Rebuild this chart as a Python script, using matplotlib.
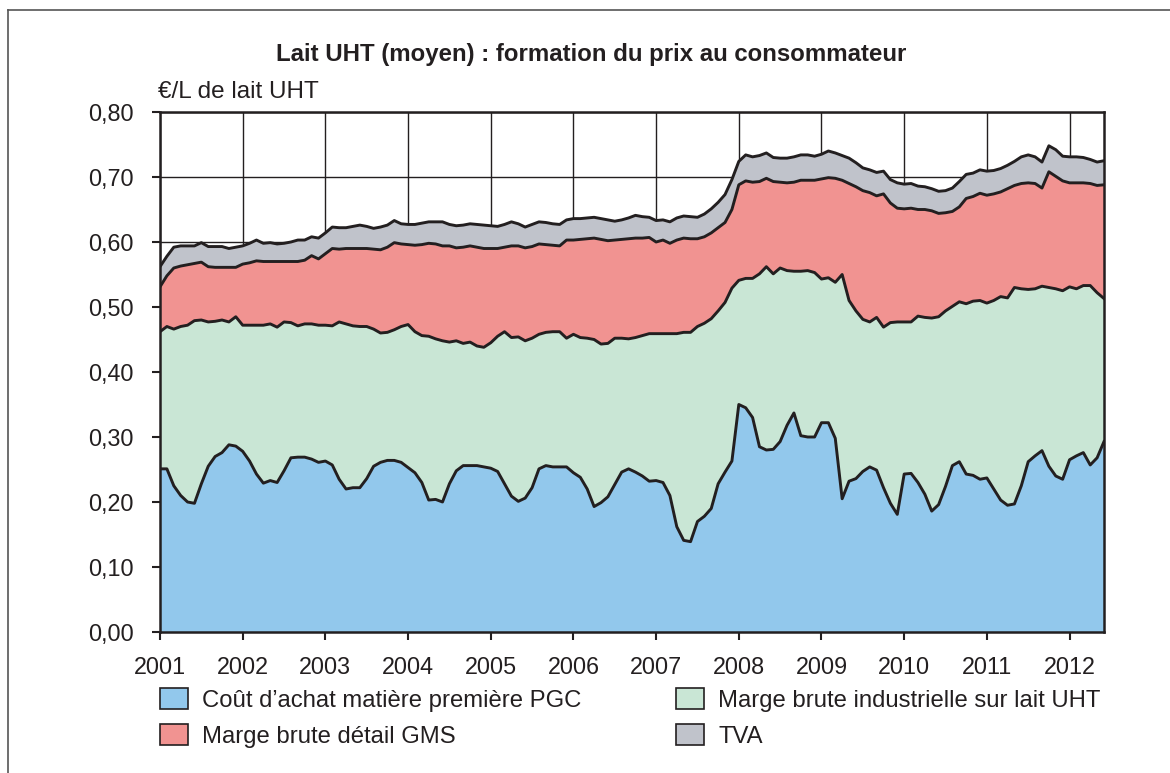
import numpy as np
import matplotlib
matplotlib.use("Agg")
import matplotlib.pyplot as plt
from matplotlib.patches import Patch
from matplotlib.lines import Line2D
from matplotlib.ticker import FuncFormatter

plt.rcParams['font.family'] = ['Liberation Sans', 'DejaVu Sans']

# --- Données mensuelles, janv. 2001 -> juin 2012 (niveaux cumulés, €/L) ---
# coût d'achat matière première
prix_mp = [
    0.251, 0.251, 0.225, 0.210, 0.200, 0.198, 0.228, 0.255, 0.270, 0.276, 0.288, 0.286,
    0.278, 0.263, 0.243, 0.229, 0.233, 0.230, 0.248, 0.268, 0.269, 0.269, 0.266, 0.261,
    0.263, 0.257, 0.235, 0.220, 0.222, 0.222, 0.236, 0.255, 0.261, 0.264, 0.264, 0.261,
    0.253, 0.245, 0.230, 0.203, 0.204, 0.200, 0.228, 0.248, 0.256, 0.256, 0.256, 0.254,
    0.252, 0.247, 0.228, 0.209, 0.201, 0.206, 0.222, 0.251, 0.256, 0.254, 0.254, 0.254,
    0.245, 0.238, 0.220, 0.193, 0.199, 0.208, 0.227, 0.246, 0.251, 0.246, 0.240, 0.232,
    0.233, 0.230, 0.210, 0.162, 0.141, 0.139, 0.170, 0.178, 0.190, 0.228, 0.246, 0.263,
    0.350, 0.345, 0.330, 0.285, 0.280, 0.281, 0.293, 0.318, 0.337, 0.302, 0.300, 0.300,
    0.322, 0.322, 0.298, 0.205, 0.232, 0.236, 0.247, 0.254, 0.249, 0.222, 0.198, 0.181,
    0.243, 0.244, 0.230, 0.212, 0.186, 0.196, 0.224, 0.256, 0.262, 0.243, 0.241, 0.235,
    0.237, 0.220, 0.203, 0.195, 0.197, 0.225, 0.262, 0.271, 0.279, 0.255, 0.240, 0.235,
    0.265, 0.271, 0.276, 0.257, 0.268, 0.293,
]
# + marge industrielle (prix sortie usine)
prix_usine = [
    0.462, 0.470, 0.466, 0.470, 0.472, 0.479, 0.480, 0.477, 0.478, 0.480, 0.477, 0.485,
    0.472, 0.472, 0.472, 0.472, 0.474, 0.469, 0.477, 0.476, 0.471, 0.474, 0.474, 0.472,
    0.472, 0.471, 0.477, 0.474, 0.471, 0.470, 0.470, 0.466, 0.460, 0.461, 0.465, 0.470,
    0.473, 0.462, 0.456, 0.455, 0.451, 0.448, 0.446, 0.448, 0.444, 0.446, 0.440, 0.438,
    0.445, 0.455, 0.462, 0.453, 0.454, 0.448, 0.452, 0.458, 0.461, 0.462, 0.462, 0.452,
    0.458, 0.453, 0.452, 0.450, 0.443, 0.444, 0.452, 0.452, 0.451, 0.453, 0.456, 0.459,
    0.459, 0.459, 0.459, 0.459, 0.461, 0.461, 0.470, 0.475, 0.482, 0.494, 0.507, 0.529,
    0.541, 0.544, 0.544, 0.551, 0.562, 0.551, 0.560, 0.556, 0.555, 0.555, 0.556, 0.553,
    0.543, 0.545, 0.538, 0.550, 0.510, 0.494, 0.481, 0.477, 0.484, 0.469, 0.476, 0.477,
    0.477, 0.477, 0.486, 0.484, 0.483, 0.485, 0.494, 0.501, 0.508, 0.505, 0.509, 0.510,
    0.506, 0.510, 0.516, 0.514, 0.530, 0.528, 0.527, 0.528, 0.532, 0.530, 0.528, 0.525,
    0.531, 0.528, 0.533, 0.533, 0.522, 0.513,
]
# + marge détail GMS (prix HT)
prix_ht = [
    0.531, 0.548, 0.560, 0.563, 0.565, 0.567, 0.569, 0.562, 0.561, 0.561, 0.561, 0.561,
    0.566, 0.568, 0.571, 0.570, 0.570, 0.570, 0.570, 0.570, 0.570, 0.572, 0.579, 0.574,
    0.582, 0.590, 0.589, 0.590, 0.590, 0.590, 0.590, 0.589, 0.588, 0.592, 0.599, 0.597,
    0.596, 0.595, 0.596, 0.598, 0.597, 0.594, 0.594, 0.591, 0.592, 0.594, 0.592, 0.590,
    0.590, 0.590, 0.592, 0.594, 0.594, 0.591, 0.593, 0.597, 0.596, 0.595, 0.594, 0.603,
    0.603, 0.604, 0.605, 0.606, 0.604, 0.602, 0.603, 0.604, 0.605, 0.606, 0.606, 0.607,
    0.600, 0.603, 0.598, 0.603, 0.606, 0.605, 0.605, 0.608, 0.614, 0.622, 0.630, 0.650,
    0.688, 0.694, 0.692, 0.693, 0.698, 0.693, 0.692, 0.691, 0.692, 0.695, 0.695, 0.695,
    0.697, 0.699, 0.698, 0.695, 0.690, 0.685, 0.679, 0.676, 0.671, 0.674, 0.660, 0.652,
    0.651, 0.652, 0.650, 0.650, 0.648, 0.644, 0.645, 0.647, 0.654, 0.667, 0.670, 0.675,
    0.672, 0.674, 0.677, 0.682, 0.687, 0.690, 0.691, 0.690, 0.683, 0.708, 0.701, 0.694,
    0.691, 0.691, 0.691, 0.690, 0.687, 0.688,
]
# + TVA (prix consommateur TTC)
prix_ttc = [
    0.562, 0.578, 0.592, 0.594, 0.594, 0.594, 0.599, 0.593, 0.593, 0.593, 0.590, 0.592,
    0.594, 0.598, 0.603, 0.598, 0.599, 0.597, 0.598, 0.600, 0.603, 0.603, 0.608, 0.606,
    0.614, 0.623, 0.622, 0.622, 0.624, 0.626, 0.624, 0.621, 0.623, 0.626, 0.633, 0.628,
    0.627, 0.627, 0.629, 0.631, 0.631, 0.631, 0.627, 0.625, 0.626, 0.628, 0.627, 0.626,
    0.625, 0.624, 0.627, 0.631, 0.628, 0.623, 0.627, 0.631, 0.630, 0.628, 0.627, 0.634,
    0.636, 0.636, 0.637, 0.638, 0.636, 0.634, 0.632, 0.634, 0.637, 0.641, 0.639, 0.638,
    0.633, 0.634, 0.631, 0.637, 0.640, 0.639, 0.638, 0.643, 0.651, 0.661, 0.673, 0.696,
    0.724, 0.734, 0.731, 0.733, 0.737, 0.730, 0.729, 0.729, 0.731, 0.734, 0.734, 0.732,
    0.735, 0.740, 0.737, 0.733, 0.729, 0.722, 0.714, 0.711, 0.707, 0.709, 0.696, 0.691,
    0.689, 0.690, 0.686, 0.685, 0.682, 0.678, 0.679, 0.683, 0.693, 0.704, 0.706, 0.711,
    0.709, 0.710, 0.713, 0.718, 0.724, 0.731, 0.734, 0.731, 0.723, 0.748, 0.742, 0.732,
    0.731, 0.731, 0.730, 0.727, 0.723, 0.725,
]

annees = list(range(2001, 2013))
labels = ['Coût d’achat matière première PGC', 'Marge brute industrielle sur lait UHT',
          'Marge brute détail GMS', 'TVA']
colors = ['#92C8EC', '#C9E6D5', '#F19391', '#C0C3CB']
ink = '#231F20'

# --- Preparation ---
niveaux = np.array([prix_mp, prix_usine, prix_ht, prix_ttc])
parts = np.vstack([niveaux[0], np.diff(niveaux, axis=0)])
t = 2001 + np.arange(niveaux.shape[1]) / 12

# --- Figure ---
fig = plt.figure(figsize=(11.7, 7.73), dpi=100)
ax = fig.add_axes([160 / 1170, 1 - 632 / 773, 944 / 1170, 520 / 773])

ax.stackplot(t, parts, colors=colors, linewidth=0, zorder=2)
for lvl in niveaux:
    ax.plot(t, lvl, color=ink, lw=2.1, zorder=3)

ax.set_xlim(t[0], t[-1])
ax.set_ylim(0, 0.8)
ax.set_xticks(annees)
ax.set_yticks(np.arange(0, 0.81, 0.1))
ax.yaxis.set_major_formatter(FuncFormatter(lambda v, p: f'{v:.2f}'.replace('.', ',')))
ax.grid(True, color=ink, lw=1.0, zorder=0)
ax.set_axisbelow(True)
ax.tick_params(direction='out', length=5.5, width=1.5, color=ink, labelsize=16.8,
               labelcolor='#231F20')
ax.tick_params(axis='x', pad=11.5)
ax.tick_params(axis='y', pad=13.5)
for s in ax.spines.values():
    s.set_color(ink)
    s.set_linewidth(1.8)
    s.set_zorder(4)

fig.text(0.505, 1 - 54 / 773, 'Lait UHT (moyen) : formation du prix au consommateur',
         ha='center', va='center', fontsize=17.3, fontweight='bold', color='#231F20')
fig.text(158 / 1170, 1 - 92 / 773, '€/L de lait UHT', ha='left', va='center',
         fontsize=17.5, color='#231F20')

handles = [Patch(facecolor=c, edgecolor=ink, lw=1.2) for c in colors]
order = [0, 2, 1, 3]
leg = fig.legend([handles[i] for i in order], [labels[i] for i in order],
                 loc='upper left', bbox_to_anchor=(160 / 1170, 1 - 688 / 773),
                 ncol=2, frameon=False, fontsize=17.2, borderpad=0, borderaxespad=0,
                 handlelength=1.17, handleheight=0.96, handletextpad=0.6,
                 labelspacing=0.52, columnspacing=3.95)
for txt in leg.get_texts():
    txt.set_color('#231F20')

# cadre extérieur
fig.add_artist(Line2D([8 / 1170, 8 / 1170], [0, 1 - 10 / 773], color='#555555', lw=1.2))
fig.add_artist(Line2D([8 / 1170, 1], [1 - 10 / 773, 1 - 10 / 773], color='#555555', lw=1.2))

fig.savefig('out.png', dpi=100)
